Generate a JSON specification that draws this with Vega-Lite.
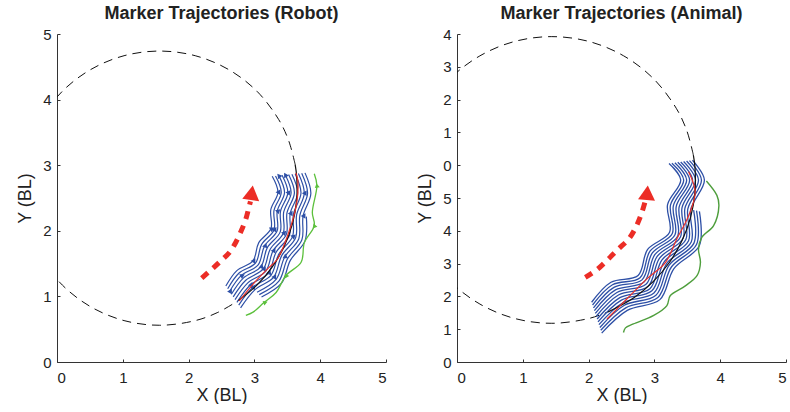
{
"$schema": "https://vega.github.io/schema/vega-lite/v6.json",
"background": "white",
"padding": {"left": 16, "top": 5, "right": 0, "bottom": 0},
"bounds": "flush",
"spacing": 71,
"config": {
  "font": "Liberation Sans",
  "view": {"stroke": null},
  "axis": {"grid": false, "domainColor": "#333", "tickColor": "#333", "tickSize": -3, "labelFontSize": 15, "labelColor": "#222", "titleFontSize": 18, "titleFontWeight": "normal", "titleColor": "#222", "domainWidth": 1, "tickWidth": 1},
  "axisX": {"titlePadding": 1, "labelPadding": 11},
  "axisY": {"titlePadding": 8, "labelPadding": 9},
  "title": {"fontSize": 18, "fontWeight": "bold", "color": "#222", "offset": 4, "anchor": "middle"}
},
"datasets": {
  "rCircle": [{"x":3.619,"y":3.013},{"x":3.524,"y":3.365},{"x":3.370,"y":3.695},{"x":3.038,"y":4.128},{"x":2.605,"y":4.460},{"x":2.101,"y":4.669},{"x":1.56,"y":4.74},{"x":1.019,"y":4.669},{"x":0.515,"y":4.460},{"x":0.082,"y":4.128},{"x":-0.250,"y":3.695},{"x":-0.459,"y":3.191},{"x":-0.53,"y":2.65},{"x":-0.459,"y":2.109},{"x":-0.250,"y":1.605},{"x":0.082,"y":1.172},{"x":0.515,"y":0.840},{"x":1.019,"y":0.631},{"x":1.56,"y":0.56},{"x":2.101,"y":0.631},{"x":2.444,"y":0.756},{"x":2.760,"y":0.938}],
  "rArc": [{"x":2.760,"y":0.938},{"x":3.038,"y":1.172},{"x":3.272,"y":1.450},{"x":3.454,"y":1.766},{"x":3.579,"y":2.109},{"x":3.642,"y":2.468},{"x":3.642,"y":2.832},{"x":3.619,"y":3.013}],
  "rBlue": [
    {"k":0,"x":2.566,"y":1.158},{"k":0,"x":2.733,"y":1.393},{"k":0,"x":2.978,"y":1.541},{"k":0,"x":3.065,"y":1.816},{"k":0,"x":3.252,"y":2.034},{"k":0,"x":3.249,"y":2.321},{"k":0,"x":3.358,"y":2.587},{"k":0,"x":3.271,"y":2.831},
    {"k":1,"x":2.594,"y":1.116},{"k":1,"x":2.767,"y":1.356},{"k":1,"x":3.018,"y":1.510},{"k":1,"x":3.109,"y":1.792},{"k":1,"x":3.299,"y":2.017},{"k":1,"x":3.298,"y":2.312},{"k":1,"x":3.408,"y":2.585},{"k":1,"x":3.321,"y":2.836},
    {"k":2,"x":2.622,"y":1.075},{"k":2,"x":2.801,"y":1.320},{"k":2,"x":3.057,"y":1.480},{"k":2,"x":3.153,"y":1.767},{"k":2,"x":3.346,"y":2.000},{"k":2,"x":3.347,"y":2.302},{"k":2,"x":3.458,"y":2.583},{"k":2,"x":3.371,"y":2.841},
    {"k":3,"x":2.650,"y":1.033},{"k":3,"x":2.835,"y":1.283},{"k":3,"x":3.097,"y":1.449},{"k":3,"x":3.196,"y":1.743},{"k":3,"x":3.393,"y":1.983},{"k":3,"x":3.396,"y":2.293},{"k":3,"x":3.508,"y":2.582},{"k":3,"x":3.421,"y":2.846},
    {"k":4,"x":2.678,"y":0.992},{"k":4,"x":2.869,"y":1.246},{"k":4,"x":3.136,"y":1.418},{"k":4,"x":3.240,"y":1.719},{"k":4,"x":3.440,"y":1.966},{"k":4,"x":3.445,"y":2.283},{"k":4,"x":3.558,"y":2.580},{"k":4,"x":3.470,"y":2.852},
    {"k":5,"x":2.706,"y":0.951},{"k":5,"x":2.904,"y":1.210},{"k":5,"x":3.175,"y":1.387},{"k":5,"x":3.284,"y":1.695},{"k":5,"x":3.487,"y":1.949},{"k":5,"x":3.495,"y":2.274},{"k":5,"x":3.608,"y":2.578},{"k":5,"x":3.520,"y":2.857},
    {"k":6,"x":2.734,"y":0.909},{"k":6,"x":2.938,"y":1.173},{"k":6,"x":3.215,"y":1.356},{"k":6,"x":3.328,"y":1.670},{"k":6,"x":3.534,"y":1.932},{"k":6,"x":3.544,"y":2.264},{"k":6,"x":3.658,"y":2.576},{"k":6,"x":3.570,"y":2.862},
    {"k":7,"x":2.762,"y":0.868},{"k":7,"x":2.972,"y":1.137},{"k":7,"x":3.254,"y":1.326},{"k":7,"x":3.371,"y":1.646},{"k":7,"x":3.581,"y":1.915},{"k":7,"x":3.593,"y":2.255},{"k":7,"x":3.708,"y":2.575},{"k":7,"x":3.620,"y":2.867},
    {"k":8,"x":2.790,"y":0.826},{"k":8,"x":3.006,"y":1.100},{"k":8,"x":3.294,"y":1.295},{"k":8,"x":3.415,"y":1.622},{"k":8,"x":3.628,"y":1.898},{"k":8,"x":3.642,"y":2.245},{"k":8,"x":3.758,"y":2.573},{"k":8,"x":3.669,"y":2.873},
    {"k":9,"x":3.040,"y":1.064},{"k":9,"x":3.333,"y":1.264},{"k":9,"x":3.459,"y":1.598},{"k":9,"x":3.675,"y":1.880},{"k":9,"x":3.691,"y":2.236},{"k":9,"x":3.808,"y":2.571},{"k":9,"x":3.719,"y":2.878},
    {"k":10,"x":3.074,"y":1.027},{"k":10,"x":3.372,"y":1.233},{"k":10,"x":3.503,"y":1.573},{"k":10,"x":3.722,"y":1.863},{"k":10,"x":3.740,"y":2.226},{"k":10,"x":3.858,"y":2.569},{"k":10,"x":3.769,"y":2.883},
    {"k":11,"x":3.108,"y":0.991},{"k":11,"x":3.412,"y":1.202},{"k":11,"x":3.546,"y":1.549},{"k":11,"x":3.769,"y":1.846},{"k":11,"x":3.789,"y":2.216}
  ],
  "rHeads": [
    {"x":2.978,"y":1.541,"a":-90},{"x":3.252,"y":2.034,"a":-60},{"x":3.358,"y":2.587,"a":-90},{"x":3.153,"y":1.767,"a":-100},{"x":3.347,"y":2.302,"a":-70},
    {"x":3.136,"y":1.418,"a":-90},{"x":3.440,"y":1.966,"a":-80},{"x":3.470,"y":2.852,"a":-30},{"x":3.299,"y":2.017,"a":-90},{"x":3.097,"y":1.449,"a":-110},
    {"x":3.508,"y":2.582,"a":-80},{"x":3.284,"y":1.695,"a":-90},{"x":2.938,"y":1.173,"a":-100},{"x":3.544,"y":2.264,"a":-90},{"x":3.581,"y":1.915,"a":-70},
    {"x":3.294,"y":1.295,"a":-90},{"x":3.758,"y":2.573,"a":-90},{"x":3.459,"y":1.598,"a":-120},{"x":3.740,"y":2.226,"a":-90},{"x":2.622,"y":1.075,"a":-90},
    {"x":2.801,"y":1.320,"a":-60},{"x":3.215,"y":1.356,"a":-100},{"x":3.371,"y":2.841,"a":-40},{"x":2.972,"y":1.137,"a":-90}
  ],
  "rGreenHeads": [{"x":3.91,"y":2.08,"a":-20},{"x":3.48,"y":1.32,"a":-30},{"x":3.15,"y":0.91,"a":-50},{"x":3.95,"y":2.69,"a":-10}],
  "rRed": [{"x":2.77,"y":0.93},{"x":3.0,"y":1.21},{"x":3.20,"y":1.42},{"x":3.35,"y":1.57},{"x":3.53,"y":2.0},{"x":3.64,"y":2.41},{"x":3.66,"y":2.76},{"x":3.63,"y":2.88}],
  "rGreen": [{"x":2.87,"y":0.71},{"x":2.98,"y":0.76},{"x":3.15,"y":0.91},{"x":3.33,"y":1.06},{"x":3.48,"y":1.32},{"x":3.71,"y":1.52},{"x":3.76,"y":1.82},{"x":3.91,"y":2.08},{"x":3.88,"y":2.28},{"x":3.95,"y":2.69},{"x":3.91,"y":2.87}],
  "rArrow": [{"x":2.20,"y":1.28},{"x":2.36,"y":1.42},{"x":2.50,"y":1.55},{"x":2.62,"y":1.67},{"x":2.72,"y":1.83},{"x":2.80,"y":2.00},{"x":2.87,"y":2.18},{"x":2.91,"y":2.33},{"x":2.94,"y":2.45}],
  "rHead": [{"x":2.96,"y":2.58}],
  "aCircle": [{"x":3.592,"y":3.155},{"x":3.494,"y":3.522},{"x":3.332,"y":3.868},{"x":2.985,"y":4.320},{"x":2.533,"y":4.667},{"x":2.006,"y":4.886},{"x":1.44,"y":4.96},{"x":0.874,"y":4.886},{"x":0.348,"y":4.667},{"x":-0.105,"y":4.320},{"x":-0.452,"y":3.868},{"x":-0.671,"y":3.341},{"x":-0.745,"y":2.775},{"x":-0.671,"y":2.209},{"x":-0.452,"y":1.683},{"x":-0.105,"y":1.230},{"x":0.348,"y":0.883},{"x":0.874,"y":0.664},{"x":1.44,"y":0.59},{"x":2.006,"y":0.664},{"x":2.294,"y":0.763}],
  "aArc": [{"x":2.294,"y":0.763},{"x":2.694,"y":0.985},{"x":2.985,"y":1.230},{"x":3.230,"y":1.521},{"x":3.420,"y":1.851},{"x":3.551,"y":2.209},{"x":3.616,"y":2.585},{"x":3.617,"y":2.965},{"x":3.592,"y":3.155}],
  "aBlue": [
    {"k":0,"x":2.046,"y":0.911},{"k":0,"x":2.340,"y":1.216},{"k":0,"x":2.752,"y":1.319},{"k":0,"x":2.897,"y":1.716},{"k":0,"x":3.231,"y":1.977},{"k":0,"x":3.200,"y":2.400},{"k":0,"x":3.400,"y":2.775},{"k":0,"x":3.222,"y":3.025},
    {"k":1,"x":2.060,"y":0.869},{"k":1,"x":2.363,"y":1.177},{"k":1,"x":2.782,"y":1.285},{"k":1,"x":2.933,"y":1.690},{"k":1,"x":3.272,"y":1.959},{"k":1,"x":3.244,"y":2.391},{"k":1,"x":3.445,"y":2.775},{"k":1,"x":3.266,"y":3.031},
    {"k":2,"x":2.074,"y":0.826},{"k":2,"x":2.385,"y":1.138},{"k":2,"x":2.812,"y":1.252},{"k":2,"x":2.969,"y":1.663},{"k":2,"x":3.313,"y":1.940},{"k":2,"x":3.288,"y":2.381},{"k":2,"x":3.490,"y":2.775},{"k":2,"x":3.311,"y":3.038},
    {"k":3,"x":2.088,"y":0.783},{"k":3,"x":2.408,"y":1.099},{"k":3,"x":2.842,"y":1.218},{"k":3,"x":3.006,"y":1.637},{"k":3,"x":3.355,"y":1.922},{"k":3,"x":3.332,"y":2.372},{"k":3,"x":3.535,"y":2.775},{"k":3,"x":3.355,"y":3.044},
    {"k":4,"x":2.102,"y":0.740},{"k":4,"x":2.430,"y":1.060},{"k":4,"x":2.872,"y":1.185},{"k":4,"x":3.042,"y":1.610},{"k":4,"x":3.396,"y":1.904},{"k":4,"x":3.376,"y":2.363},{"k":4,"x":3.580,"y":2.775},{"k":4,"x":3.400,"y":3.050},
    {"k":5,"x":2.116,"y":0.698},{"k":5,"x":2.453,"y":1.021},{"k":5,"x":2.902,"y":1.151},{"k":5,"x":3.079,"y":1.584},{"k":5,"x":3.437,"y":1.885},{"k":5,"x":3.420,"y":2.353},{"k":5,"x":3.625,"y":2.775},{"k":5,"x":3.444,"y":3.056},
    {"k":6,"x":2.130,"y":0.655},{"k":6,"x":2.475,"y":0.982},{"k":6,"x":2.932,"y":1.118},{"k":6,"x":3.115,"y":1.557},{"k":6,"x":3.478,"y":1.867},{"k":6,"x":3.464,"y":2.344},{"k":6,"x":3.670,"y":2.775},{"k":6,"x":3.489,"y":3.063},
    {"k":7,"x":2.143,"y":0.612},{"k":7,"x":2.498,"y":0.943},{"k":7,"x":2.962,"y":1.085},{"k":7,"x":3.151,"y":1.531},{"k":7,"x":3.519,"y":1.849},{"k":7,"x":3.508,"y":2.335},{"k":7,"x":3.715,"y":2.775},{"k":7,"x":3.533,"y":3.069},
    {"k":8,"x":2.157,"y":0.569},{"k":8,"x":2.520,"y":0.904},{"k":8,"x":2.993,"y":1.051},{"k":8,"x":3.188,"y":1.505},{"k":8,"x":3.560,"y":1.830},{"k":8,"x":3.552,"y":2.325},{"k":8,"x":3.760,"y":2.775},{"k":8,"x":3.578,"y":3.075},
    {"k":9,"x":2.171,"y":0.526},{"k":9,"x":2.543,"y":0.865},{"k":9,"x":3.023,"y":1.018},{"k":9,"x":3.224,"y":1.478},{"k":9,"x":3.601,"y":1.812},{"k":9,"x":3.596,"y":2.316},
    {"k":10,"x":2.185,"y":0.484},{"k":10,"x":2.565,"y":0.826},{"k":10,"x":3.053,"y":0.984},{"k":10,"x":3.261,"y":1.452},{"k":10,"x":3.642,"y":1.794},{"k":10,"x":3.640,"y":2.307},
    {"k":11,"x":2.199,"y":0.441},{"k":11,"x":2.588,"y":0.787},{"k":11,"x":3.083,"y":0.951},{"k":11,"x":3.297,"y":1.425},{"k":11,"x":3.684,"y":1.775},{"k":11,"x":3.684,"y":2.297}
  ],
  "aRed": [{"x":2.28,"y":0.655},{"x":2.58,"y":0.96},{"x":2.89,"y":1.27},{"x":3.17,"y":1.52},{"x":3.34,"y":1.875},{"x":3.52,"y":2.23},{"x":3.62,"y":2.59},{"x":3.52,"y":2.90}],
  "aGreen": [{"x":2.53,"y":0.45},{"x":2.56,"y":0.52},{"x":2.68,"y":0.58},{"x":2.99,"y":0.71},{"x":3.19,"y":0.86},{"x":3.24,"y":1.01},{"x":3.47,"y":1.16},{"x":3.65,"y":1.32},{"x":3.70,"y":1.52},{"x":3.67,"y":1.72},{"x":3.72,"y":1.90},{"x":3.90,"y":2.08},{"x":3.98,"y":2.38},{"x":3.95,"y":2.54},{"x":3.79,"y":2.76}],
  "aArrow": [{"x":1.95,"y":1.29},{"x":2.13,"y":1.41},{"x":2.30,"y":1.57},{"x":2.45,"y":1.72},{"x":2.61,"y":1.875},{"x":2.72,"y":2.06},{"x":2.81,"y":2.28},{"x":2.86,"y":2.45}],
  "aHead": [{"x":2.89,"y":2.58}]
},
"hconcat": [
  {
    "width": 329, "height": 328,
    "title": "Marker Trajectories (Robot)",
    "encoding": {
      "x": {"field": "x", "type": "quantitative", "scale": {"domain": [0, 5], "nice": false, "zero": false}, "axis": {"title": "X (BL)", "values": [0,1,2,3,4,5], "format": "d"}},
      "y": {"field": "y", "type": "quantitative", "scale": {"domain": [0, 5], "nice": false, "zero": false}, "axis": {"title": "Y (BL)", "values": [0,1,2,3,4,5], "format": "d"}},
      "order": {"value": null}
    },
    "layer": [
      {"data": {"name": "rCircle"}, "mark": {"type": "line", "clip": true, "stroke": "#111", "strokeWidth": 1, "strokeDash": [9, 6], "interpolate": "catmull-rom"}},
      {"data": {"name": "rBlue"}, "mark": {"type": "line", "clip": true, "stroke": "#2d4fa6", "strokeWidth": 1.2, "interpolate": "catmull-rom"}, "encoding": {"detail": {"field": "k", "type": "nominal"}}},
      {"data": {"name": "rHeads"}, "mark": {"type": "point", "shape": "triangle-up", "filled": true, "size": 30, "color": "#2d4fa6", "opacity": 1}, "encoding": {"angle": {"field": "a", "type": "quantitative", "scale": null}}},
      {"data": {"name": "rArc"}, "mark": {"type": "line", "clip": true, "stroke": "#111", "strokeWidth": 1.2, "interpolate": "catmull-rom"}},
      {"data": {"name": "rRed"}, "mark": {"type": "line", "clip": true, "stroke": "#e8302a", "strokeWidth": 1.2, "interpolate": "catmull-rom"}},
      {"data": {"name": "rGreen"}, "mark": {"type": "line", "clip": true, "stroke": "#5cc03c", "strokeWidth": 1.3, "interpolate": "catmull-rom"}},
      {"data": {"name": "rGreenHeads"}, "mark": {"type": "point", "shape": "triangle-up", "filled": true, "size": 25, "color": "#5cc03c", "opacity": 1}, "encoding": {"angle": {"field": "a", "type": "quantitative", "scale": null}}},
      {"data": {"name": "rArrow"}, "mark": {"type": "line", "clip": true, "stroke": "#ec2d26", "strokeWidth": 5, "strokeDash": [8, 7], "strokeCap": "butt", "interpolate": "catmull-rom"}},
      {"data": {"name": "rHead"}, "mark": {"type": "point", "shape": "triangle-up", "filled": true, "size": 290, "color": "#ec2d26", "opacity": 1, "angle": 8}}
    ]
  },
  {
    "width": 329, "height": 328,
    "title": "Marker Trajectories (Animal)",
    "encoding": {
      "x": {"field": "x", "type": "quantitative", "scale": {"domain": [0, 5], "nice": false, "zero": false}, "axis": {"title": "X (BL)", "values": [0,1,2,3,4,5], "format": "d"}},
      "y": {"field": "y", "type": "quantitative", "scale": {"domain": [0, 5], "nice": false, "zero": false}, "axis": {"title": "Y (BL)", "values": [0,0.5,1,1.5,2,2.5,3,3.5,4,4.5,5], "labelExpr": "round(datum.value*2) <= 5 ? format(round(datum.value*2), 'd') : format(round(datum.value*2) - 6, 'd')"}},
      "order": {"value": null}
    },
    "layer": [
      {"data": {"name": "aCircle"}, "mark": {"type": "line", "clip": true, "stroke": "#111", "strokeWidth": 1, "strokeDash": [9, 6], "interpolate": "catmull-rom"}},
      {"data": {"name": "aBlue"}, "mark": {"type": "line", "clip": true, "stroke": "#2d4fa6", "strokeWidth": 1.3, "interpolate": "catmull-rom"}, "encoding": {"detail": {"field": "k", "type": "nominal"}}},
      {"data": {"name": "aArc"}, "mark": {"type": "line", "clip": true, "stroke": "#111", "strokeWidth": 1.2, "interpolate": "catmull-rom"}},
      {"data": {"name": "aRed"}, "mark": {"type": "line", "clip": true, "stroke": "#e8302a", "strokeWidth": 1.2, "interpolate": "catmull-rom"}},
      {"data": {"name": "aGreen"}, "mark": {"type": "line", "clip": true, "stroke": "#4e9e3c", "strokeWidth": 1.4, "interpolate": "catmull-rom"}},
      {"data": {"name": "aArrow"}, "mark": {"type": "line", "clip": true, "stroke": "#ec2d26", "strokeWidth": 5, "strokeDash": [8, 7], "strokeCap": "butt", "interpolate": "catmull-rom"}},
      {"data": {"name": "aHead"}, "mark": {"type": "point", "shape": "triangle-up", "filled": true, "size": 290, "color": "#ec2d26", "opacity": 1, "angle": 5}}
    ]
  }
]
}
